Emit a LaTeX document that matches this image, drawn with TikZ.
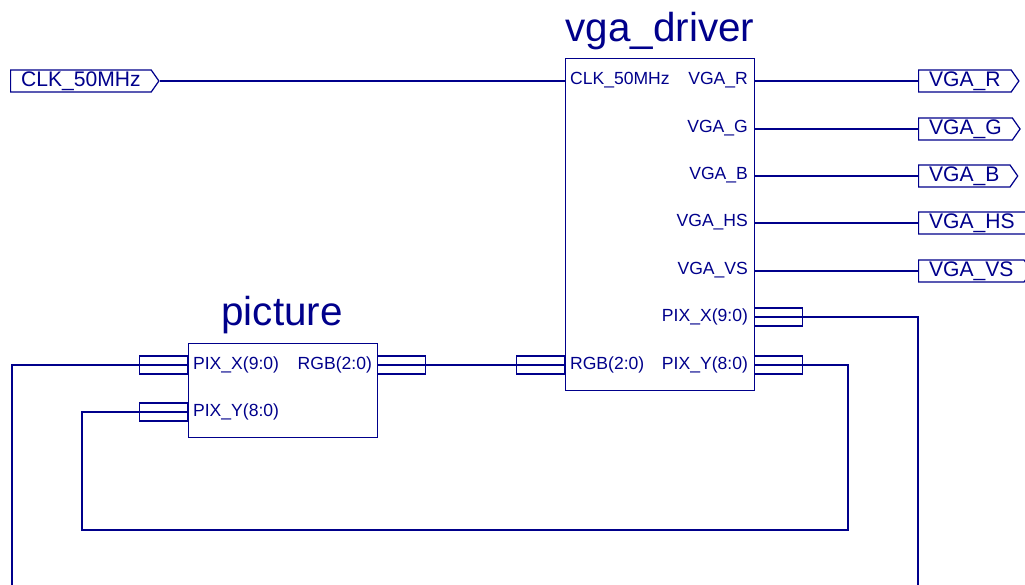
\documentclass[tikz,border=0pt]{standalone}
\usepackage{fontspec}
\setmainfont{Liberation Sans}
\usetikzlibrary{positioning,calc,shapes.symbols}
\definecolor{schblue}{RGB}{0,0,139}

\begin{document}
\begin{tikzpicture}[x=0.02cm,y=-0.02cm,
  blk/.style={draw=schblue,line width=0.8pt,inner sep=0pt,anchor=north west},
  ttl/.style={text=schblue,font=\fontsize{23}{23}\selectfont},
  lbl/.style={text=schblue,font=\fontsize{10}{10}\selectfont,inner sep=1pt},
  port/.style={draw=schblue,line width=0.7pt,text=schblue,signal,signal to=east,
               signal pointer angle=110,minimum height=0.44cm,inner xsep=6pt,inner ysep=0pt,
               font=\fontsize{12}{12}\selectfont,anchor=west},
  bus/.style={draw=schblue,line width=0.6pt,minimum width=0.96cm,minimum height=0.36cm,inner sep=0pt,
              path picture={\draw[schblue,line width=0.6pt] (path picture bounding box.west)--(path picture bounding box.east);}},
  wire/.style={draw=schblue,line width=0.6pt},
  bwire/.style={draw=schblue,line width=1.6pt}]
  \useasboundingbox (0,0) rectangle (1025,585);
  % blocks
  \node[blk,minimum width=3.78cm,minimum height=6.64cm] (drv) at (565,58) {};
  \node[ttl] (drvname) at (660,31) {vga\_driver};
  \node[blk,minimum width=3.78cm,minimum height=1.88cm] (pic) at (188,343) {};
  \node[ttl] (picname) at (282,315) {picture};
  % vga_driver pins
  \node[lbl,anchor=west] (dclk) at (568,80) {CLK\_50MHz};
  \node[lbl,anchor=east] (dr)  at (750,80)  {VGA\_R};
  \node[lbl,anchor=east] (dg)  at (750,128) {VGA\_G};
  \node[lbl,anchor=east] (db)  at (750,175) {VGA\_B};
  \node[lbl,anchor=east] (dhs) at (750,222) {VGA\_HS};
  \node[lbl,anchor=east] (dvs) at (750,270) {VGA\_VS};
  \node[lbl,anchor=east] (dpxl) at (750,317) {PIX\_X(9:0)};
  \node[lbl,anchor=east] (dpyl) at (750,365) {PIX\_Y(8:0)};
  \node[lbl,anchor=west] (drgbl) at (568,365) {RGB(2:0)};
  % picture pins
  \node[lbl,anchor=west] (ppxl) at (191,365) {PIX\_X(9:0)};
  \node[lbl,anchor=west] (ppyl) at (191,412) {PIX\_Y(8:0)};
  \node[lbl,anchor=east] (prgbl) at (374,365) {RGB(2:0)};
  % bus stubs
  \node[bus,anchor=west] (dpx)  at (754,317) {};
  \node[bus,anchor=west] (dpy)  at (754,365) {};
  \node[bus,anchor=east] (drgb) at (565,365) {};
  \node[bus,anchor=east] (ppx)  at (188,365) {};
  \node[bus,anchor=east] (ppy)  at (188,412) {};
  \node[bus,anchor=west] (prgb) at (377,365) {};
  % top level ports
  \node[port] (clkin) at (10,81) {CLK\_50MHz};
  \node[port] (or)  at (918,81)  {VGA\_R};
  \node[port] (og)  at (918,129) {VGA\_G};
  \node[port] (ob)  at (918,176) {VGA\_B};
  \node[port] (ohs) at (918,223) {VGA\_HS};
  \node[port] (ovs) at (918,271) {VGA\_VS};
  \coordinate (xr) at (918,585);
  \coordinate (xl) at (12,585);
  \coordinate (yr) at (848,530);
  \coordinate (yl) at (82,530);
  % nets
  \draw[wire] (clkin.east) -- (clkin.east -| drv.west);
  \draw[wire] (or.west -| drv.east) -- (or.west);
  \draw[wire] (og.west -| drv.east) -- (og.west);
  \draw[wire] (ob.west -| drv.east) -- (ob.west);
  \draw[wire] (ohs.west -| drv.east) -- (ohs.west);
  \draw[wire] (ovs.west -| drv.east) -- (ovs.west);
  \draw[bwire] (prgb.east) -- (drgb.west);
  \draw[bwire] (dpx.east) -| (xr);
  \draw[bwire] (ppx.west) -| (xl);
  \draw[bwire] (dpy.east) -| (yr) -- (yl) |- (ppy.west);
\end{tikzpicture}
\end{document}
